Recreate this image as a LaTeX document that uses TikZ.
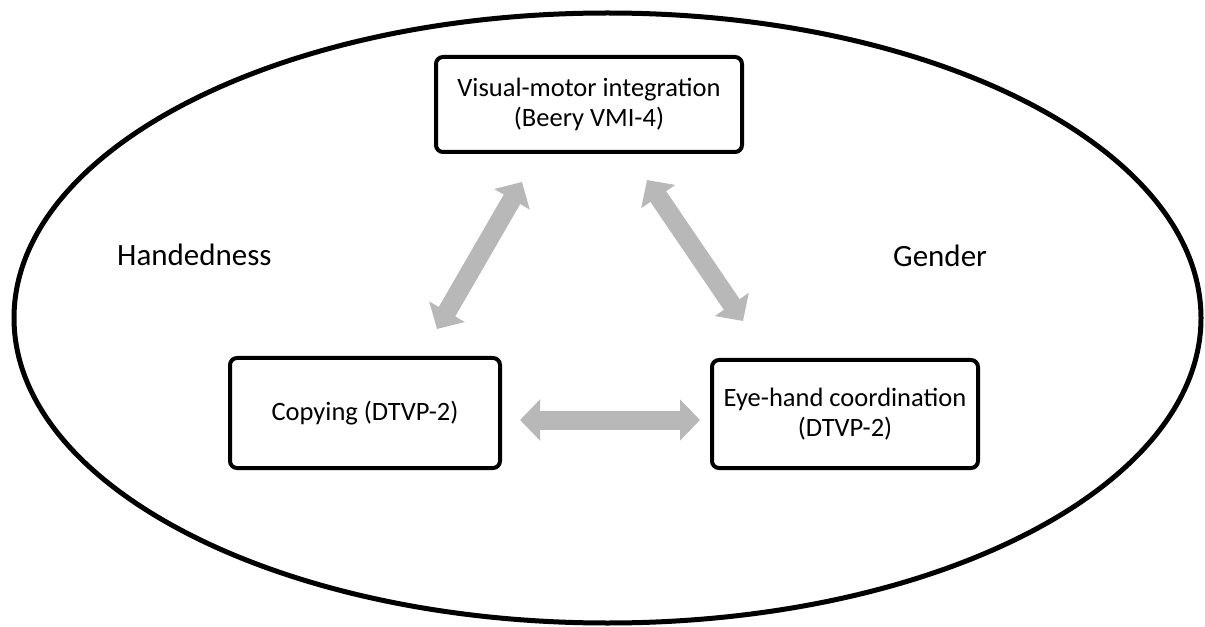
\documentclass[tikz,border=0pt]{standalone}
\usepackage{fontspec}
\setmainfont{Carlito}
\usetikzlibrary{arrows.meta}
\definecolor{arrowgray}{RGB}{184,184,184}
\tikzset{
  boxnode/.style={draw=black, line width=4bp, rounded corners=7bp, align=center, inner sep=0pt,
    font=\fontsize{26.5bp}{30bp}\selectfont},
  sidelabel/.style={inner sep=0pt, font=\fontsize{31bp}{36bp}\selectfont},
  bigarrow/.style={draw=arrowgray, line width=19bp,
    {Triangle[width=40bp,length=20bp]}-{Triangle[width=40bp,length=20bp]}},
}
\begin{document}
\begin{tikzpicture}[x=1bp,y=-1bp]
\useasboundingbox (0,0) rectangle (1205,627);
\draw[line width=5bp] (607.5,318) ellipse [x radius=593.5, y radius=305];
\node[boxnode, minimum width=306bp, minimum height=95bp] (vmi) at (589,104.5) {Visual-motor integration\\(Beery VMI-4)};
\node[boxnode, minimum width=270bp, minimum height=110bp] (copy) at (365,413) {Copying (DTVP-2)};
\node[boxnode, minimum width=266bp, minimum height=108bp] (eye) at (845,414) {Eye-hand coordination\\(DTVP-2)};
\node[sidelabel, anchor=base west] (hand) at (117,266) {Handedness};
\node[sidelabel, anchor=base west] (gender) at (893,267) {Gender};
\coordinate (a1s) at (437,329);
\coordinate (a1e) at (522,182);
\coordinate (a2s) at (647,180);
\coordinate (a2e) at (743,321);
\coordinate (a3s) at (520,420);
\coordinate (a3e) at (700,420);
\draw[bigarrow] (a1s) -- (a1e);
\draw[bigarrow] (a2s) -- (a2e);
\draw[bigarrow] (a3s) -- (a3e);
\end{tikzpicture}
\end{document}
